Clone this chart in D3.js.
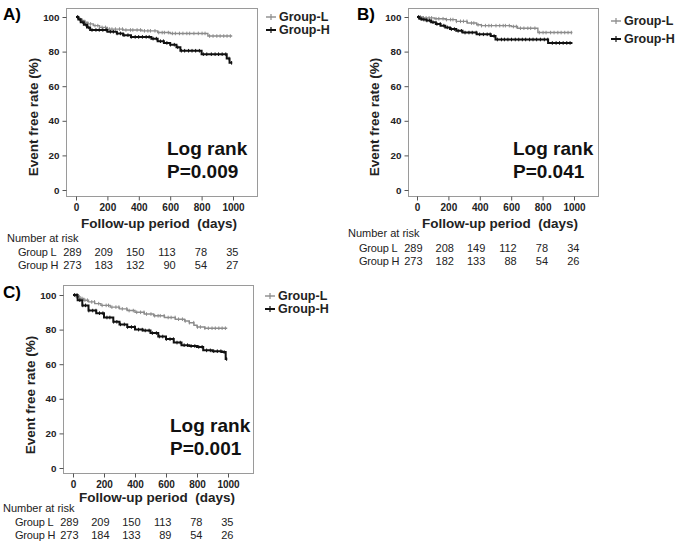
<!DOCTYPE html>
<html><head><meta charset="utf-8">
<script src="https://cdn.jsdelivr.net/npm/d3@7"></script>
<style>body{margin:0;background:#fff}svg{display:block}</style>
</head><body>
<svg id="c" width="689" height="545"></svg>
<script>
// ---------- data ----------
const xTicks = [0, 200, 400, 600, 800, 1000];
const yTicks = [0, 20, 40, 60, 80, 100];
const legendLabels = ["Group-L", "Group-H"];
const riskRowLabels = ["Group L", "Group H"];
const panelLetters = ["A)", "B)", "C)"];
const pTexts = ["P=0.009", "P=0.041", "P=0.001"];

const riskA_L = [289, 209, 150, 113, 78, 35];
const riskA_H = [273, 183, 132, 90, 54, 27];
const riskB_L = [289, 208, 149, 112, 78, 34];
const riskB_H = [273, 182, 133, 88, 54, 26];
const riskC_L = [289, 209, 150, 113, 78, 35];
const riskC_H = [273, 184, 133, 89, 54, 26];

const survA_L = [[0,100],[15,99],[35,98],[55,97],[75,96],[110,95],[150,94],[200,93],[300,92.5],[420,92],[520,91],[600,90.5],[840,89],[995,89]];
const survA_H = [[0,100],[15,98.5],[30,97],[50,95.5],[70,94],[90,92.5],[200,91.5],[260,90.5],[300,89.5],[350,88.5],[480,87.5],[520,86],[560,85],[600,84],[640,82.5],[665,80.5],[800,78.5],[960,76],[978,73.5],[995,73.5]];
const survB_L = [[0,100],[40,99.5],[110,99],[180,98.5],[250,97.5],[320,96.5],[380,95.5],[410,95],[600,94.5],[640,93.5],[770,91],[990,91]];
const survB_H = [[0,100],[15,99],[30,98.5],[60,98],[90,97],[120,96],[150,95],[180,94],[210,93],[250,92],[290,91],[380,90],[470,89],[500,87],[835,85],[990,85]];
const survC_L = [[0,100],[20,99],[45,98],[70,97],[100,96],[140,95],[180,94],[240,93],[300,92],[350,91],[400,90],[460,89],[520,88],[590,87],[660,86],[720,85],[750,84],[780,82.5],[800,81.5],[850,80.8],[995,80.8]];
const survC_H = [[0,100],[30,97],[60,94],[100,91],[150,89.5],[200,87],[260,84.5],[300,83],[350,81.5],[400,80],[450,79.5],[500,78],[550,76],[600,74.5],[650,72.5],[700,71],[750,70.5],[800,70],[840,68],[900,67.5],[960,67],[985,63],[995,63]];

const censorL = [9,22,41,58,77,93,121,139,166,188,214,229,251,277,296,318,347,362,389,411,436,458,474,503,527,549,563,588,614,633,659,681,706,724,751,779,803,822,851,873,897,918,941,962,983];
const censorH = [11,26,44,63,81,102,127,148,171,193,219,238,262,283,306,331,352,377,399,423,447,466,491,512,538,557,579,602,626,648,671,692,717,739,762,786,811,833,862,886,908,931,954,975,991];

// ---------- layout ----------
const panels = [
  {surv:[survA_L, survA_H], risk:[riskA_L, riskA_H],
   xr:[76,233], yr:[190,17], box:[66,8,257,196], letter:[3,20], lr:[167,155,178], leg:[266,17,30],
   ytitle:[33,117], xtitle:[159,223], riskY:[238,252,265], riskX:[7,18]},
  {surv:[survB_L, survB_H], risk:[riskB_L, riskB_H],
   xr:[417,574], yr:[190,17], box:[408,8,598,196], letter:[357,20], lr:[513,155,178], leg:[611,21,39],
   ytitle:[374,117], xtitle:[500,223], riskY:[233,248,261], riskX:[348,359]},
  {surv:[survC_L, survC_H], risk:[riskC_L, riskC_H],
   xr:[73,228], yr:[468,295], box:[63,285,253,473], letter:[3,298], lr:[170,432,455], leg:[265,296,309],
   ytitle:[30,395], xtitle:[157,497], riskY:[508,522,535], riskX:[3,15]}
];
const colors = ["#8c8c8c", "#111"];
const widths = [1.4, 2];
const FONT = "'Liberation Sans', Arial, sans-serif";

const svg = d3.select("#c");

function stepVal(surv, t){
  let v = surv[0][1];
  for (const [d, s] of surv) { if (d <= t) v = s; }
  return v;
}

panels.forEach((p, i) => {
  const g = svg.append("g");
  const x = d3.scaleLinear().domain([0, 1000]).range(p.xr);
  const y = d3.scaleLinear().domain([0, 100]).range(p.yr);
  const [bx0, by0, bx1, by1] = p.box;

  // box
  g.append("rect").attr("x", bx0 + 0.5).attr("y", by0 + 0.5)
    .attr("width", bx1 - bx0).attr("height", by1 - by0)
    .attr("fill", "none").attr("stroke", "#9a9a9a").attr("stroke-width", 1);

  // y axis
  const ya = d3.axisLeft(y).tickValues(yTicks).tickFormat(d3.format("d")).tickSize(4).tickPadding(3);
  const yg = g.append("g").attr("transform", `translate(${bx0 + 0.5},0)`).call(ya);
  yg.select(".domain").remove();
  yg.selectAll("text").attr("font-family", FONT).attr("font-weight", "bold").attr("font-size", 9.8).attr("fill", "#222");
  yg.selectAll("line").attr("stroke", "#555");

  // x axis
  const xa = d3.axisBottom(x).tickValues(xTicks).tickFormat(d3.format("d")).tickSize(4).tickPadding(3);
  const xg = g.append("g").attr("transform", `translate(0,${by1 + 0.5})`).call(xa);
  xg.select(".domain").remove();
  xg.selectAll("text").attr("font-family", FONT).attr("font-weight", "bold").attr("font-size", 10).attr("fill", "#222");
  xg.selectAll("line").attr("stroke", "#555");

  // curves
  const line = d3.line().x(d => x(d[0])).y(d => y(d[1])).curve(d3.curveStepAfter);
  p.surv.forEach((s, k) => {
    g.append("path").datum(s).attr("d", line).attr("fill", "none")
      .attr("stroke", colors[k]).attr("stroke-width", widths[k]);
    const cens = (k === 0 ? censorL : censorH).filter(t => t <= s[s.length - 1][0]);
    g.selectAll(null).data(cens).enter().append("line")
      .attr("x1", t => x(t)).attr("x2", t => x(t))
      .attr("y1", t => y(stepVal(s, t)) - 1.8).attr("y2", t => y(stepVal(s, t)) + 1.8)
      .attr("stroke", colors[k]).attr("stroke-width", 1);
  });

  // panel letter
  g.append("text").attr("x", p.letter[0]).attr("y", p.letter[1]).text(panelLetters[i])
    .attr("font-family", FONT).attr("font-weight", "bold").attr("font-size", 17);

  // axis titles
  g.append("text").attr("transform", `translate(${p.ytitle[0]},${p.ytitle[1]}) rotate(-90)`)
    .attr("text-anchor", "middle").attr("dy", "0.35em").text("Event free rate (%)")
    .attr("font-family", FONT).attr("font-weight", "bold").attr("font-size", 13.5).attr("fill", "#222");
  g.append("text").attr("x", p.xtitle[0]).attr("y", p.xtitle[1]).attr("dy", "0.35em")
    .attr("text-anchor", "middle").text("Follow-up period  (days)")
    .style("white-space", "pre")
    .attr("font-family", FONT).attr("font-weight", "bold").attr("font-size", 13.5).attr("fill", "#222");

  // log rank
  g.append("text").attr("x", p.lr[0]).attr("y", p.lr[1]).text("Log rank")
    .attr("font-family", FONT).attr("font-weight", "bold").attr("font-size", 19).attr("fill", "#111");
  g.append("text").attr("x", p.lr[0]).attr("y", p.lr[2]).text(pTexts[i])
    .attr("font-family", FONT).attr("font-weight", "bold").attr("font-size", 19).attr("fill", "#111");

  // legend
  legendLabels.forEach((lab, k) => {
    const ly = p.leg[1 + k];
    const lx = p.leg[0];
    g.append("line").attr("x1", lx).attr("x2", lx + 10).attr("y1", ly).attr("y2", ly)
      .attr("stroke", colors[k]).attr("stroke-width", widths[k]);
    g.append("line").attr("x1", lx + 5).attr("x2", lx + 5).attr("y1", ly - 3).attr("y2", ly + 3)
      .attr("stroke", colors[k]).attr("stroke-width", 1.2);
    g.append("text").attr("x", lx + 13).attr("y", ly).attr("dy", "0.35em").text(lab)
      .attr("font-family", FONT).attr("font-weight", "bold").attr("font-size", 12.5).attr("fill", "#222");
  });

  // number at risk
  g.append("text").attr("x", p.riskX[0]).attr("y", p.riskY[0]).attr("dy", "0.35em").text("Number at risk")
    .attr("font-family", FONT).attr("font-size", 11).attr("fill", "#222");
  riskRowLabels.forEach((lab, k) => {
    const ry = p.riskY[1 + k];
    g.append("text").attr("x", p.riskX[1]).attr("y", ry).attr("dy", "0.35em").text(lab)
      .attr("font-family", FONT).attr("font-size", 11).attr("letter-spacing", -0.2).attr("fill", "#222");
    g.selectAll(null).data(p.risk[k]).enter().append("text")
      .attr("x", (d, j) => x(xTicks[j]) + 5.5).attr("y", ry).attr("dy", "0.35em")
      .attr("text-anchor", "end").text(d => d)
      .attr("font-family", FONT).attr("font-size", 11).attr("fill", "#222");
  });
});
</script>
</body></html>
